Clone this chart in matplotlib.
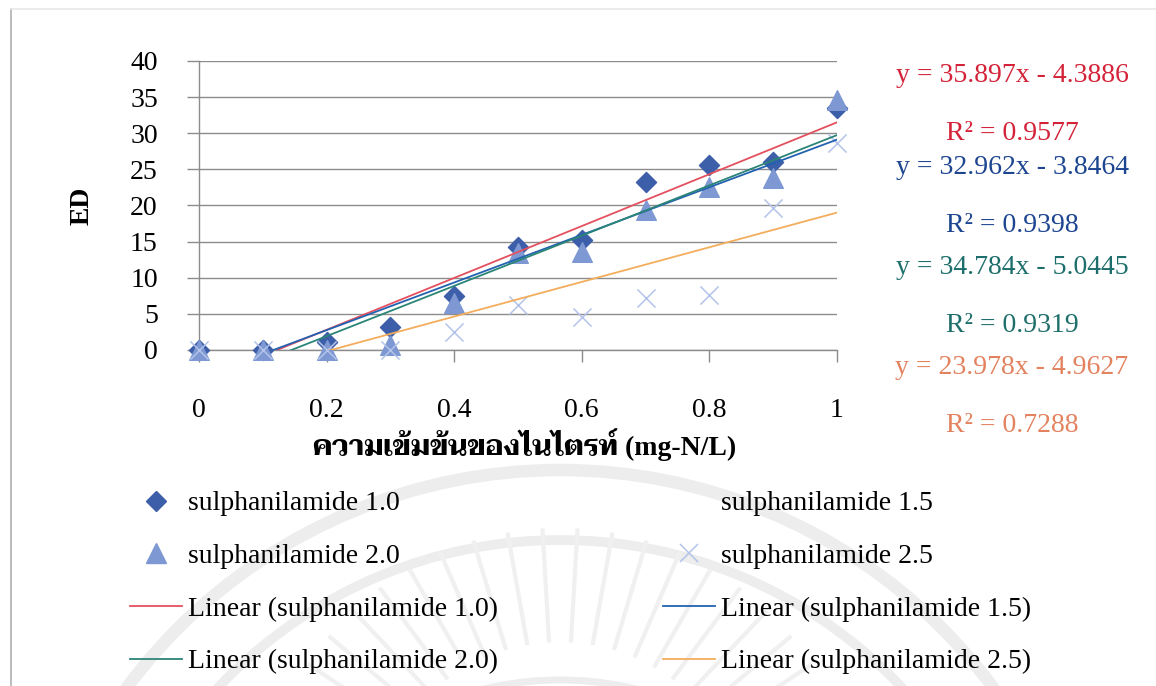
import matplotlib
matplotlib.use('Agg')
import matplotlib.pyplot as plt
from matplotlib.lines import Line2D
from matplotlib.patches import Arc
import numpy as np

# nitrite concentration (mg-N/L)
conc = [0, 0.1, 0.2, 0.3, 0.4, 0.5, 0.6, 0.7, 0.8, 0.9, 1.0]

# ED readings for each sulphanilamide level
ed_10 = [0, 0, 1.1, 3.2, 7.5, 14.3, 15.2, 23.2, 25.6, 26.0, 33.5]
ed_20 = [0, 0, 0, 0.7, 6.5, 13.4, 13.5, 19.4, 22.6, 23.8, 34.6]
ed_25 = [0, 0, 0, 0, 2.5, 6.2, 4.6, 7.2, 7.6, 19.6, 28.6]

# linear trendlines (slope, intercept, R^2)
levels = ['1.0', '1.5', '2.0', '2.5']
slopes = [35.897, 32.962, 34.784, 23.978]
intercepts = [-4.3886, -3.8464, -5.0445, -4.9627]
r2 = [0.9577, 0.9398, 0.9319, 0.7288]

line_colors = ['#e4505f', '#2262b0', '#2b8577', '#f3ad5c']
eq_colors = ['#d42339', '#1d4590', '#1e6f6b', '#e3825f']

serif = ['Liberation Serif', 'DejaVu Serif']
thai = ['Liberation Serif', 'Taviraj', 'Trirong', 'Noto Serif Thai', 'Sarabun',
        'Noto Sans Thai', 'DejaVu Sans']
plt.rcParams['font.family'] = serif
fs = 20

fig = plt.figure(figsize=(11.56, 6.86), dpi=100)

# page frame and faint seal in the background
bg = fig.add_axes([0, 0, 1, 1], zorder=-5)
bg.set_xlim(0, 1156)
bg.set_ylim(686, 0)
bg.axis('off')
bg.plot([11, 11], [686, 9], color='#b0b0b0', lw=1.2)
bg.plot([11, 1156], [9, 9], color='#e8e8e8', lw=1.2)
for r, w in [(540, 9), (470, 7), (330, 5)]:
    bg.add_patch(Arc((560, 1010), 2 * r, 2 * r, theta1=180, theta2=360,
                     color='#ededed', lw=w))
for a in np.linspace(200, 340, 22):
    t = np.deg2rad(a)
    bg.plot([560 + 190 * np.cos(t), 560 + 300 * np.cos(t)],
            [830 + 190 * np.sin(t), 830 + 300 * np.sin(t)],
            color='#f0f0f0', lw=3)

ax = fig.add_axes([0.1721, 0.4898, 0.5519, 0.4213])
ax.set_xlim(0, 1)
ax.set_ylim(0, 40)

ax.scatter(conc, ed_10, marker='D', s=105, color='#3d5ea8', zorder=3, clip_on=False)
ax.scatter(conc, ed_20, marker='^', s=200, color='#7d98d2', zorder=4, clip_on=False)
ax.scatter(conc, ed_25, marker='x', s=170, color='#b3c3ea', linewidths=1.1,
           zorder=5, clip_on=False)

xs = np.array([0.0, 1.0])
for m, b, c in zip(slopes, intercepts, line_colors):
    ax.plot(xs, m * xs + b, color=c, lw=1.3, zorder=6)

ax.set_yticks(range(0, 41, 5))
ax.set_xticks([0, 0.2, 0.4, 0.6, 0.8, 1.0])
ax.set_xticklabels(['0', '0.2', '0.4', '0.6', '0.8', '1'])
ax.grid(axis='y', color='#8c8c8c', lw=1)
ax.set_axisbelow(True)
for s in ['top', 'right']:
    ax.spines[s].set_visible(False)
for s in ['left', 'bottom']:
    ax.spines[s].set_color('#8c8c8c')
    ax.spines[s].set_linewidth(1)
ax.tick_params(axis='y', length=8.6, width=1, color='#8c8c8c', pad=21, labelsize=fs)
ax.tick_params(axis='x', length=8.6, width=1, color='#8c8c8c', pad=26, labelsize=fs)

ax.set_ylabel('ED', fontsize=fs, fontweight='bold')
ax.yaxis.set_label_coords(-0.163, 0.5)
ax.set_xlabel('ความเข้มข้นของไนไตรท์ (mg-N/L)', fontsize=fs, fontweight='bold',
              family=thai)
ax.xaxis.label.set_va('center')
ax.xaxis.set_label_coords(0.51, -0.329)

# trendline equations to the right of the plot
eq_y = [75, 133, 167, 225, 268, 325, 368, 426]
for i in range(4):
    fig.text(1012 / 1156, 1 - eq_y[2 * i] / 686,
             'y = %.3fx - %.4f' % (slopes[i], -intercepts[i]),
             color=eq_colors[i], fontsize=fs, ha='center', va='center')
    fig.text(1012 / 1156, 1 - eq_y[2 * i + 1] / 686,
             'R² = %.4f' % r2[i],
             color=eq_colors[i], fontsize=fs, ha='center', va='center')

h = [
    Line2D([], [], ls='none', marker='D', ms=10, color='#3d5ea8'),
    Line2D([], [], ls='none', marker='^', ms=14, color='#7d98d2'),
    Line2D([], [], color=line_colors[0], lw=1.3),
    Line2D([], [], color=line_colors[2], lw=1.3),
    Line2D([], [], ls='none', marker='None'),
    Line2D([], [], ls='none', marker='x', ms=13, mew=1.1, color='#b3c3ea'),
    Line2D([], [], color=line_colors[1], lw=1.3),
    Line2D([], [], color=line_colors[3], lw=1.3),
]
labels = ['sulphanilamide 1.0', 'sulphanilamide 2.0',
          'Linear (sulphanilamide 1.0)', 'Linear (sulphanilamide 2.0)',
          'sulphanilamide 1.5', 'sulphanilamide 2.5',
          'Linear (sulphanilamide 1.5)', 'Linear (sulphanilamide 2.5)']
fig.legend(h, labels, ncol=2, loc='upper left',
           bbox_to_anchor=(130 / 1156, 1 - 491 / 686), frameon=False,
           fontsize=fs, borderpad=0, borderaxespad=0, handlelength=1.87,
           handletextpad=0.22, columnspacing=5.95, labelspacing=0.98)

fig.savefig('out.png', dpi=100)
